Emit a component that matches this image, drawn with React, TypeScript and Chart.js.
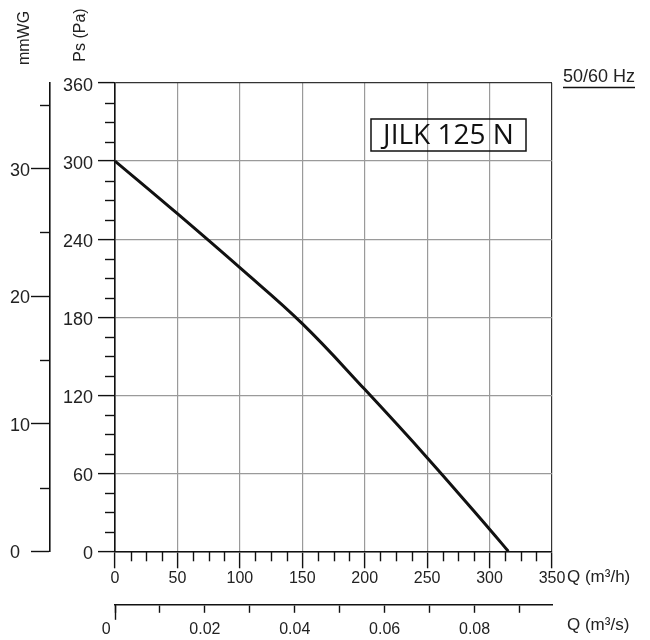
import { useEffect, useRef } from "react";
import { Chart, registerables } from "chart.js";

Chart.register(...registerables);

// Fan curve: flow (m³/h) vs static pressure (Pa)
const FLOW_M3H = [0, 50, 100, 150, 200, 250, 300, 315];
const PRESSURE_PA = [300, 259.5, 218, 175, 124.5, 72, 17, 0];

const PA_TICKS = [0, 60, 120, 180, 240, 300, 360];
const PA_MINOR = [15, 30, 45, 75, 90, 105, 135, 150, 165, 195, 210, 225, 255, 270, 285, 315, 330, 345];
const MMWG_TICKS = [0, 10, 20, 30];
const MMWG_MINOR = [5, 15, 25, 35];
const QH_TICKS = [0, 50, 100, 150, 200, 250, 300, 350];
const QH_MINOR = [12.5, 25, 37.5, 62.5, 75, 87.5, 112.5, 125, 137.5, 162.5, 175, 187.5, 212.5, 225, 237.5, 262.5, 275, 287.5, 312.5, 325, 337.5];
const QS_TICKS = [0, 0.01, 0.02, 0.03, 0.04, 0.05, 0.06, 0.07, 0.08, 0.09];
const QS_LABELS = ["0", "", "0.02", "", "0.04", "", "0.06", "", "0.08", ""];

const PA_PER_MMWG = 9.80665;
const QH_MAX = 350;
const PA_MAX = 360;

const TITLE = "JILK 125 N";
const FREQ = "50/60 Hz";

const SANS = "'Liberation Sans', Arial, Helvetica, sans-serif";

const decorPlugin = {
  id: "decor",
  afterDraw(chart: any) {
    const ctx = chart.ctx as CanvasRenderingContext2D;
    const area = chart.chartArea;
    const { x, y, y2, x2 } = chart.scales;
    const line = (a: number, b: number, c: number, d: number) => {
      ctx.beginPath();
      ctx.moveTo(a, b);
      ctx.lineTo(c, d);
      ctx.stroke();
    };
    ctx.save();
    ctx.strokeStyle = "#111";
    ctx.lineWidth = 1.4;
    QH_MINOR.forEach((v) => {
      const px = Math.round(x.getPixelForValue(v)) + 0.5;
      line(px, area.bottom, px, area.bottom + 10);
    });
    PA_MINOR.forEach((v) => {
      const py = Math.round(y.getPixelForValue(v)) + 0.5;
      line(area.left - 10, py, area.left, py);
    });
    MMWG_MINOR.forEach((v) => {
      const py = Math.round(y2.getPixelForValue(v)) + 0.5;
      line(y2.right - 10, py, y2.right, py);
    });
    // longer origin tick on the m³/s axis
    const x0 = Math.round(x2.getPixelForValue(0)) + 0.5;
    line(x0, x2.top, x0, x2.top + 15);

    // texts
    ctx.fillStyle = "#222";
    ctx.font = `16px ${SANS}`;
    ctx.textAlign = "center";
    ctx.textBaseline = "middle";
    ctx.save();
    ctx.translate(25, 38);
    ctx.rotate(-Math.PI / 2);
    ctx.fillText("mmWG", 0, 0);
    ctx.restore();
    ctx.save();
    ctx.translate(81, 35);
    ctx.rotate(-Math.PI / 2);
    ctx.fillText("Ps (Pa)", 0, 0);
    ctx.restore();

    ctx.textAlign = "left";
    ctx.font = `17px ${SANS}`;
    ctx.fillText("Q (m³/h)", area.right + 15, 577);
    ctx.fillText("Q (m³/s)", area.right + 15, 625);

    ctx.font = `18px ${SANS}`;
    ctx.textBaseline = "alphabetic";
    ctx.fillText(FREQ, 563, 82);
    ctx.lineWidth = 1.5;
    line(563, 87.5, 635, 87.5);

    // model box
    ctx.lineWidth = 1.5;
    ctx.strokeStyle = "#111";
    ctx.strokeRect(371, 119, 155, 32);
    ctx.font = `28px 'Open Sans', 'Noto Sans', sans-serif`;
    ctx.textAlign = "center";
    ctx.textBaseline = "middle";
    ctx.fillStyle = "#111";
    ctx.fillText(TITLE, 448.5, 136);
    ctx.restore();
  },
};

export default function App() {
  const ref = useRef<HTMLCanvasElement | null>(null);

  useEffect(() => {
    if (!ref.current) return;
    const gridColor = (edge: number) => (c: any) =>
      c.tick && c.tick.value === edge ? "#333" : "#9a9a9a";
    const chart = new Chart(ref.current, {
      type: "line",
      data: {
        datasets: [
          {
            data: FLOW_M3H.map((q, i) => ({ x: q, y: PRESSURE_PA[i] })),
            borderColor: "#111",
            borderWidth: 3,
            pointRadius: 0,
            tension: 0.4,
            fill: false,
          },
        ],
      },
      options: {
        responsive: false,
        animation: false,
        devicePixelRatio: 1,
        layout: { padding: { left: 0, top: 83, right: 98, bottom: 0 } },
        plugins: { legend: { display: false }, tooltip: { enabled: false } },
        scales: {
          x: {
            type: "linear",
            position: "bottom",
            min: 0,
            max: QH_MAX,
            weight: 0,
            afterBuildTicks: (s: any) => {
              s.ticks = QH_TICKS.map((v) => ({ value: v }));
            },
            afterFit: (s: any) => {
              s.height = 53.5;
            },
            grid: { color: gridColor(QH_MAX), lineWidth: 1.2, tickLength: 17, tickColor: "#111", tickWidth: 1.4 },
            border: { color: "#111", width: 1.6 },
            ticks: { color: "#222", font: { family: SANS, size: 16 }, padding: 1, maxRotation: 0 },
          },
          x2: {
            type: "linear",
            position: "bottom",
            min: 0,
            max: QH_MAX / 3600,
            weight: 1,
            afterBuildTicks: (s: any) => {
              s.ticks = QS_TICKS.map((v) => ({ value: v }));
            },
            afterFit: (s: any) => {
              s.height = 35.2;
            },
            grid: { drawOnChartArea: false, tickLength: 8, tickColor: "#111", tickWidth: 1.4 },
            border: { color: "#111", width: 1.6 },
            ticks: {
              color: "#222",
              font: { family: SANS, size: 16 },
              padding: 7,
              maxRotation: 0,
              autoSkip: false,
              callback: (_v: any, i: number) => (QS_LABELS[i] === "0" ? "0    " : QS_LABELS[i]),
            },
          },
          y: {
            type: "linear",
            position: "left",
            min: 0,
            max: PA_MAX,
            weight: 0,
            afterBuildTicks: (s: any) => {
              s.ticks = PA_TICKS.map((v) => ({ value: v }));
            },
            afterFit: (s: any) => {
              s.width = 65;
            },
            grid: { color: gridColor(PA_MAX), lineWidth: 1.2, tickLength: 17, tickColor: "#111", tickWidth: 1.4 },
            border: { color: "#111", width: 1.6 },
            ticks: { color: "#222", font: { family: SANS, size: 18 }, padding: 5, labelOffset: 3 },
          },
          y2: {
            type: "linear",
            position: "left",
            min: 0,
            max: PA_MAX / PA_PER_MMWG,
            weight: 1,
            afterBuildTicks: (s: any) => {
              s.ticks = MMWG_TICKS.map((v) => ({ value: v }));
            },
            afterFit: (s: any) => {
              s.width = 50;
            },
            grid: { drawOnChartArea: false, tickLength: 19, tickColor: "#111", tickWidth: 1.4 },
            border: { color: "#111", width: 1.6 },
            ticks: {
              color: "#222",
              font: { family: SANS, size: 18 },
              padding: 1,
              labelOffset: 2,
              callback: (v: any) => (v === 0 ? "0  " : String(v)),
            },
          },
        },
      },
      plugins: [decorPlugin],
    });
    return () => chart.destroy();
  }, []);

  return (
    <div style={{ position: "absolute", left: 0, top: 0, width: 650, height: 640, background: "#fff" }}>
      <canvas ref={ref} width={650} height={640} />
    </div>
  );
}
